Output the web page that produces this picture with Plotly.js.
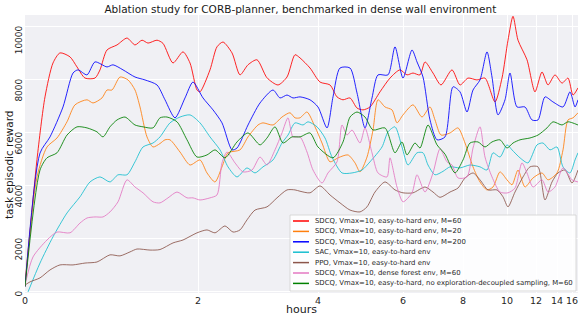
<!DOCTYPE html>
<html><head><meta charset="utf-8">
<script src="https://cdn.plot.ly/plotly-3.0.1.min.js"></script>
<style>html,body{margin:0;padding:0;background:#fff}#chart{width:581px;height:316px}</style>
</head><body><div id="chart"></div>
<script>
// x positions are in training-progress units; tick labels show hours
const hourTickPos = [0,173,293,378,438,482,511,532,547];
const hourTickText = ['0','2','4','6','8','10','12','14','16'];
const rewardTicks = [0,2000,4000,6000,8000,10000];
const rewardTickText = ['0','2000','4000','6000','8000','10000'];

const seriesNames = [
  'SDCQ, Vmax=10, easy-to-hard env, M=60',
  'SDCQ, Vmax=10, easy-to-hard env, M=20',
  'SDCQ, Vmax=10, easy-to-hard env, M=200',
  'SAC, Vmax=10, easy-to-hard env',
  'PPO, Vmax=10, easy-to-hard env',
  'SDCQ, Vmax=10, dense forest env, M=60',
  'SDCQ, Vmax=10, easy-to-hard, no exploration-decoupled sampling, M=60'
];
const seriesColors = ['#ff0000','#ff7f0e','#0000ff','#17becf','#8c564b','#e377c2','#008000'];

const m60X = [0,12,20,28,35,45,52,60,70,75,82,92,102,110,117,123,132,138,148,158,165,172,175,185,192,198,207,215,223,232,242,253,262,270,275,285,295,305,312,318,325,332,338,345,355,365,375,382,388,395,400,408,416,427,435,443,452,460,470,477,483,488,493,502,510,517,523,530,537,543,548,553];
const m60Y = [200,5000,7360,8640,9020,8870,8490,8070,8070,8380,9130,9320,9580,9320,9500,9390,9500,9380,8640,9060,8640,7620,7550,8380,9250,9430,9020,8190,8570,8760,8080,7810,8110,8950,8830,8450,7920,7810,7360,7250,7320,6940,6870,6980,7550,8070,8380,8190,8260,8190,8680,8260,7810,8380,7810,8070,8000,8070,7170,8070,9500,10400,9500,8760,7550,8300,7810,8190,7880,8070,7430,7700];

const m20X = [0,12,22,32,42,50,62,68,77,82,87,95,103,110,115,122,128,135,140,145,155,165,175,182,190,197,203,215,223,233,238,248,257,265,270,275,282,290,297,305,313,323,330,335,342,348,353,360,367,372,378,388,397,405,410,416,425,433,440,448,455,462,468,475,482,487,493,500,508,517,523,532,538,543,548,553];
const m20Y = [340,4340,5470,5810,6420,7060,7250,7130,7320,7620,7620,8110,8000,7620,6980,5850,5470,5600,5740,5740,5280,4790,4980,4490,4150,4720,5250,5360,5850,6300,6380,6300,6600,6760,6570,6570,6790,6230,5620,4910,5060,5170,4870,4530,5090,6110,7250,6980,6870,6380,6680,7060,6600,6980,6490,5920,6000,6190,5620,4720,4150,3850,3960,4530,4230,4040,4600,3960,4300,4490,4230,4490,5360,6490,6570,6760];

const m200X = [0,15,25,38,48,53,62,70,82,88,98,110,120,132,140,150,160,168,178,188,197,207,212,223,235,248,255,262,268,275,285,293,302,308,315,325,332,340,347,353,363,370,378,387,392,398,405,412,420,428,435,442,448,455,462,467,473,480,485,492,500,507,513,520,528,538,545,550,553];
const m200Y = [200,5240,5850,6980,8260,8380,8190,8680,8490,8570,8380,8110,8000,7810,7250,6570,7320,7920,7320,6870,6380,5360,5430,6300,7130,7620,7320,7430,7320,7360,7250,6980,6190,7360,8450,8450,7510,6190,7320,8190,8190,9250,8070,9130,8680,8110,6490,5740,5850,7740,7550,6790,7620,8000,9060,8110,6680,7250,8260,6980,6980,6490,6490,7360,7170,6980,7550,6980,7250];

const sacX = [3,15,28,42,55,65,75,85,93,102,110,118,128,135,145,155,165,175,185,195,203,212,222,230,238,248,257,263,270,278,283,292,300,307,317,327,337,345,357,363,370,377,383,392,398,403,410,418,425,435,445,455,462,468,475,482,487,495,503,512,518,525,532,538,545,550,553];
const sacY = [0,1090,2080,2980,3590,4150,4340,4150,4420,4420,4910,5470,5620,5850,6380,6600,6680,6380,5850,5360,4720,4340,4680,4490,4720,4980,5620,5920,6380,6300,6420,6230,5810,5090,4490,4490,4600,4910,5470,6040,6230,5470,4790,5250,5250,4790,4420,4550,4720,4680,4790,4720,4600,5250,5090,5550,5360,5060,4870,5550,5620,5360,5470,4720,4490,4980,5250];

const ppoX = [0,5,15,25,35,48,60,72,85,95,105,112,125,135,148,158,172,182,190,200,208,215,222,230,242,252,262,270,275,285,295,305,315,325,335,342,350,360,370,378,388,400,408,415,425,433,440,448,455,463,472,478,483,490,498,505,513,520,527,533,540,547,553];
const ppoY = [260,380,530,830,1020,1020,1090,1130,1400,1360,1510,1620,1580,1600,1850,1960,2230,2340,2230,2490,2260,2340,2720,3090,3210,3550,3850,3850,3800,3740,4000,3660,3360,3090,3020,3210,3770,4150,3850,3740,3740,3960,3770,3570,3770,3920,4300,4490,4230,3850,3850,3590,3210,3770,4340,4720,4720,3470,4150,4490,4600,4110,4600];

const forestX = [0,8,22,32,45,55,62,70,78,85,93,102,110,118,128,135,143,152,162,168,175,185,192,197,202,210,218,227,235,242,250,257,263,268,275,282,288,297,303,312,317,322,327,335,340,347,353,362,365,372,378,387,392,400,408,415,422,427,433,442,448,455,460,467,475,483,490,497,502,508,517,523,530,538,547,553];
const forestY = [260,1320,1960,2260,2230,2600,2790,2830,2830,3020,3400,4230,3960,3740,3400,3360,3550,3770,3550,3550,3470,3550,3660,4870,5280,4870,4530,4600,5090,4790,5360,6000,6570,5850,5850,5280,4600,4110,4490,4910,6300,5920,6110,5620,6190,5250,4490,4340,5060,3960,3400,3740,4420,3770,4490,5400,4910,4790,4300,4340,5430,6230,5090,4340,3770,3740,3920,4870,4490,3960,4230,3770,3960,4680,4230,4150];

const noDecoupleX = [0,15,22,32,42,52,62,72,78,85,92,100,110,118,128,135,142,152,162,172,182,190,200,212,223,235,242,250,258,267,275,285,293,308,318,325,332,340,348,360,370,377,382,390,395,403,412,420,430,438,445,453,460,467,475,482,488,495,505,513,522,528,537,543,553];
const noDecoupleY = [200,4600,5060,5250,5920,6230,6190,6040,5850,6230,6490,6600,6300,6230,6190,6570,6600,6420,5740,5090,5170,5360,5060,5660,6000,5550,5810,6230,5620,5850,5850,6000,5470,5060,5660,6600,6790,6600,6110,6190,5250,5660,5170,5620,5430,6300,5550,5200,4490,4980,5620,5660,5470,5660,5740,5430,5620,5740,5810,5920,6190,6420,6300,6420,6300];

const seriesX = [m60X, m20X, m200X, sacX, ppoX, forestX, noDecoupleX];
const seriesY = [m60Y, m20Y, m200Y, sacY, ppoY, forestY, noDecoupleY];

const traces = seriesX.map((xs, i) => ({
  type: 'scatter', mode: 'lines', x: xs, y: seriesY[i], name: seriesNames[i],
  line: {color: seriesColors[i], width: 1, shape: 'spline', smoothing: 0.7},
  opacity: 0.85, showlegend: false, hoverinfo: 'skip'
}));

// rotated y tick labels sit below their tick (top of text at the grid line):
// shift labels down a little and pad with non-breaking spaces
const NBSP = '\u00a0';
const paddedTickText = rewardTickText.map(t => t + NBSP.repeat(Math.max(0, 2 * t.length - 2)));

// custom legend box (Plotly legend rows have a minimum height)
const plotL = 25, plotW = 553, plotB = 293, plotH = 278;
const px2x = p => (p - plotL) / plotW;
const py2y = p => (plotB - p) / plotH;
const shapes = [{
  type: 'rect', xref: 'paper', yref: 'paper',
  x0: px2x(290), x1: px2x(576), y0: py2y(291), y1: py2y(215),
  fillcolor: 'rgba(255,255,255,0.85)', line: {color: '#d0d0d0', width: 0.8}, layer: 'above'
}];
const annotations = [];
seriesNames.forEach((n, i) => {
  const py = 221 + 10.4 * i;
  shapes.push({type: 'line', xref: 'paper', yref: 'paper', x0: px2x(293), x1: px2x(309),
    y0: py2y(py), y1: py2y(py), line: {color: seriesColors[i], width: 1.5}, layer: 'above'});
  annotations.push({xref: 'paper', yref: 'paper', x: px2x(313), y: py2y(py), xanchor: 'left', yanchor: 'middle',
    text: n, showarrow: false, font: {family: 'DejaVu Sans', size: 6.9, color: '#262626'}});
});
annotations.push({xref: 'paper', yref: 'paper', x: px2x(9), y: py2y(165), xanchor: 'center', yanchor: 'middle',
  text: 'task episodic reward', textangle: -90, showarrow: false,
  font: {family: 'DejaVu Sans', size: 10.5, color: '#1a1a1a'}});

const layout = {
  width: 581, height: 316,
  margin: {l: 25, r: 3, t: 15, b: 23, pad: 0},
  paper_bgcolor: '#ffffff', plot_bgcolor: '#f0f0f4',
  font: {family: 'DejaVu Sans', color: '#262626'},
  title: {text: 'Ablation study for CORB-planner, benchmarked in dense wall environment',
    font: {family: 'DejaVu Sans', size: 10.5, color: '#1a1a1a'}, x: 0.517, xanchor: 'center',
    y: 0.982, yanchor: 'top', yref: 'container'},
  xaxis: {range: [0, 553], tickmode: 'array', tickvals: hourTickPos, ticktext: hourTickText,
    showgrid: true, gridcolor: '#ffffff', gridwidth: 1, zeroline: false, showline: false,
    ticks: '', tickfont: {size: 9.5, color: '#262626'},
    title: {text: 'hours', font: {size: 11, color: '#1a1a1a'}, standoff: 0}},
  yaxis: {range: [-40, 10450], tickmode: 'array', tickvals: rewardTicks, ticktext: paddedTickText,
    showgrid: true, gridcolor: '#ffffff', gridwidth: 1, zeroline: false, showline: false,
    ticks: '', tickangle: -90, ticklabelshift: 3, ticklabeloverflow: 'allow',
    tickfont: {size: 9, color: '#262626'}},
  shapes: shapes, annotations: annotations
};

Plotly.newPlot('chart', traces, layout, {displayModeBar: false, staticPlot: true});
</script>
</body></html>
